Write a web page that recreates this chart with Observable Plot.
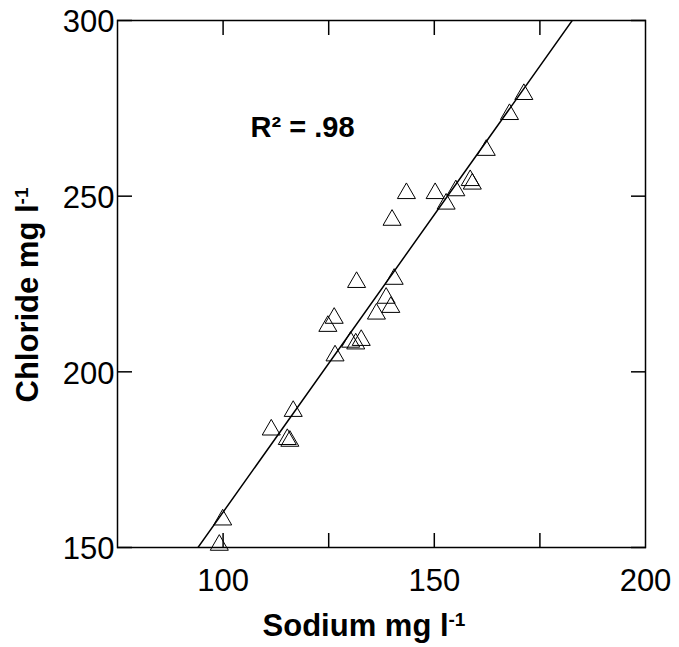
<!DOCTYPE html>
<html>
<head>
<meta charset="utf-8">
<script src="https://cdn.jsdelivr.net/npm/d3@7"></script>
<script src="https://cdn.jsdelivr.net/npm/@observablehq/plot@0.6"></script>
<style>
  html, body { margin: 0; padding: 0; background: #fff; }
  #chart svg { display: block; }
</style>
</head>
<body>
<div id="chart"></div>
<script>
// Paired samples: sodium vs chloride concentration (mg/l)
const sodium = [
  171.2, 167.8, 162.3, 158.5, 159.0, 155.1, 152.8, 150.2, 143.4, 140.0,
  131.6, 140.5, 138.6, 139.7, 136.3, 126.3, 124.8, 130.2, 131.4, 132.7,
  126.5, 116.6, 111.4, 115.2, 115.8, 99.9, 99.1
];
const chloride = [
  279.0, 273.3, 263.1, 254.5, 253.5, 251.6, 247.8, 250.8, 250.8, 243.2,
  225.5, 226.4, 221.0, 218.4, 216.5, 215.3, 213.0, 208.5, 208.0, 209.0,
  204.6, 188.8, 183.5, 180.8, 180.3, 157.9, 150.7
];

// Axis extents and tick values
const xDomain = [75, 200];
const yDomain = [150, 300];
const xTickMarks = [100, 125, 150, 175];
const xTickLabels = [100, 150, 200];
const yTickMarks = [150, 200, 250, 300];
const yTickLabels = [150, 200, 250, 300];

// Annotation text and its anchor (data units)
const fitLabel = "R\u00B2 = .98";
const fitLabelAt = {x: 106.5, y: 269.5};

const samples = sodium.map((na, i) => ({sodium: na, chloride: chloride[i]}));

// Ordinary least-squares fit of chloride on sodium
const mx = d3.mean(sodium), my = d3.mean(chloride);
const sxy = d3.sum(samples, d => (d.sodium - mx) * (d.chloride - my));
const sxx = d3.sum(samples, d => (d.sodium - mx) ** 2);
const slope = sxy / sxx;
const intercept = my - slope * mx;
const fit = xDomain.map(x => ({sodium: x, chloride: intercept + slope * x}));

const font = "'Liberation Sans', Arial, Helvetica, sans-serif";

const plot = Plot.plot({
  width: 679,
  height: 647,
  marginLeft: 117,
  marginRight: 34,
  marginTop: 20,
  marginBottom: 100,
  style: {fontFamily: font, fontSize: "31px", color: "black", background: "white"},
  x: {domain: xDomain},
  y: {domain: yDomain},
  marks: [
    // inward tick marks on all four sides
    Plot.axisX(xTickMarks, {anchor: "bottom", tickSize: -14, fill: "none", strokeWidth: 1.5}),
    Plot.axisX(xTickMarks, {anchor: "top", tickSize: -14, fill: "none", strokeWidth: 1.5}),
    Plot.axisY(yTickMarks, {anchor: "left", tickSize: -15, fill: "none", strokeWidth: 1.5}),
    Plot.axisY(yTickMarks, {anchor: "right", tickSize: -15, fill: "none", strokeWidth: 1.5}),
    // tick labels
    Plot.axisX(xTickLabels, {anchor: "bottom", tickSize: 0, tickPadding: 21, fontSize: 31, label: null}),
    Plot.axisY(yTickLabels, {anchor: "left", tickSize: 0, tickPadding: 3, fontSize: 31, label: null, dy: 2}),
    Plot.frame({stroke: "black", strokeWidth: 1.5}),
    Plot.line(fit, {x: "sodium", y: "chloride", clip: true, stroke: "black", strokeWidth: 1.5}),
    Plot.dot(samples, {x: "sodium", y: "chloride", symbol: "triangle", r: 6.7,
      stroke: "black", strokeWidth: 1, fill: "none"}),
    Plot.text([fitLabel], {x: () => fitLabelAt.x, y: () => fitLabelAt.y, text: d => d,
      textAnchor: "start", fontWeight: "bold", fontSize: 29})
  ]
});

// Axis titles with superscript units
const svg = d3.select(plot);
const xt = svg.append("text")
  .attr("x", 364).attr("y", 636)
  .attr("text-anchor", "middle")
  .attr("font-family", font).attr("font-weight", "bold").attr("font-size", 31)
  .attr("fill", "black")
  .text("Sodium mg l");
xt.append("tspan").attr("baseline-shift", "super").attr("font-size", 19).text("-1");

const yt = svg.append("text")
  .attr("transform", "translate(38,295) rotate(-90)")
  .attr("text-anchor", "middle")
  .attr("font-family", font).attr("font-weight", "bold").attr("font-size", 31)
  .attr("fill", "black")
  .text("Chloride mg l");
yt.append("tspan").attr("baseline-shift", "super").attr("font-size", 19).text("-1");

document.getElementById("chart").append(plot);
</script>
</body>
</html>
